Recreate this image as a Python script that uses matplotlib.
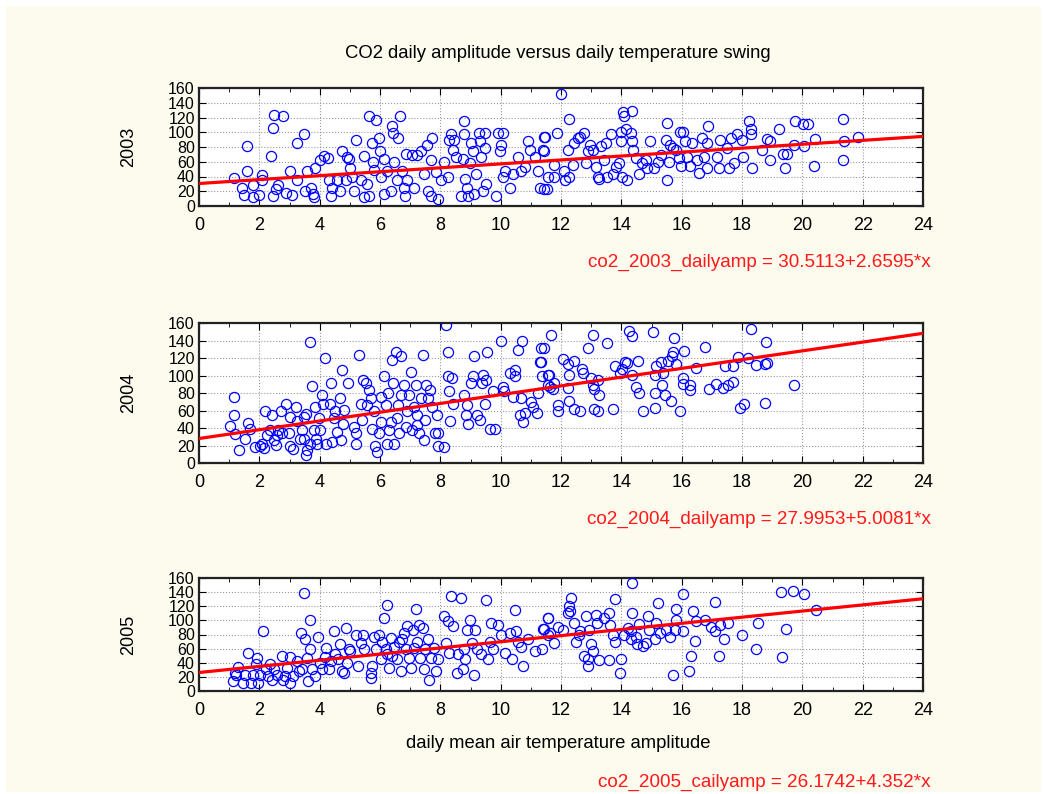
import matplotlib
matplotlib.use("Agg")
import matplotlib.pyplot as plt
from matplotlib.patches import Rectangle
import numpy as np

plt.rcParams['font.family'] = ['Liberation Sans', 'DejaVu Sans']

# 2003 - Werte
x03 = [1.17, 1.44, 1.5, 1.58, 1.6, 1.78, 1.78, 2.0, 2.08, 2.1, 2.4, 2.45, 2.5, 2.77, 2.46, 2.55, 2.63,
       2.9, 3.0, 3.08, 3.24, 3.24, 3.47, 3.52, 3.58, 3.7, 3.8, 3.86, 3.78, 4.0, 4.13, 4.27, 4.3, 4.36,
       4.4, 4.58, 4.69, 4.74, 4.86, 4.9, 4.96, 5.0, 5.08, 5.13, 5.2, 5.36, 5.47, 5.47, 5.58, 5.63, 5.63,
       5.74, 5.78, 5.8, 5.86, 5.97, 6.0, 6.02, 6.13, 6.13, 6.24, 6.36, 6.41, 6.44, 6.47, 6.56, 6.6, 6.67,
       6.72, 6.8, 6.82, 6.86, 6.91, 7.06, 7.13, 7.24, 7.36, 7.47, 7.56, 7.58, 7.69, 7.69, 7.74, 7.86,
       7.93, 8.02, 8.13, 8.24, 8.3, 8.36, 8.41, 8.44, 8.52, 8.69, 8.74, 8.78, 8.8, 8.82, 8.89, 8.91,
       8.97, 9.02, 9.08, 9.11, 9.19, 9.27, 9.3, 9.36, 9.41, 9.47, 9.47, 9.5, 9.86, 9.91, 9.97, 10.02,
       10.08, 10.08, 10.13, 10.3, 10.41, 10.58, 10.69, 10.8, 10.91, 10.97, 11.13, 11.24, 11.3, 11.41,
       11.47, 11.52, 11.58,
       12.0, 11.45, 11.45, 11.45, 11.87, 11.78, 11.76, 12.1, 12.13, 12.22, 12.28, 12.28, 12.39, 12.44,
       12.55, 12.64, 12.75, 12.83, 12.88, 12.97, 13.05, 13.16, 13.21, 13.27, 13.32, 13.41, 13.48, 13.54,
       13.65, 13.71, 13.82, 13.93, 13.98, 13.98, 14.01, 14.04, 14.09, 14.15, 14.2, 14.31, 14.35, 14.37,
       14.4, 14.48, 14.59, 14.7, 14.81, 14.84, 14.95, 15.09, 15.2, 15.3, 15.47, 15.51, 15.53, 15.58,
       15.62, 15.7, 15.8, 15.9, 15.94, 15.97, 16.06, 16.1, 16.19, 16.28, 16.33, 16.52, 16.57, 16.68,
       16.74, 16.83, 16.85, 16.88, 17.18, 17.24, 17.27, 17.5, 17.57, 17.65, 17.74, 17.83, 18.0, 18.04,
       18.23, 18.3, 18.3, 18.33, 18.67, 18.84, 18.92, 18.94, 19.22, 19.36, 19.42, 19.5, 19.72, 19.77,
       20.02, 20.05, 20.19, 20.38, 20.43, 21.35, 21.35, 21.39, 21.83]
y03 = [38, 25, 15, 82, 47, 29, 12, 15, 42, 35, 68, 106, 124, 122, 13, 23, 28,
       18, 47, 15, 85, 35, 98, 21, 47, 25, 12, 52, 16, 62, 68, 65, 35, 14,
       25, 35, 21, 75, 35, 67, 64, 52, 39, 21, 90, 35, 68, 12, 30, 122, 14,
       85, 60, 49, 117, 92, 74, 39, 64, 16, 48, 21, 108, 99, 59, 35, 92, 122,
       48, 25, 14, 71, 35, 69, 25, 69, 74, 44, 83, 21, 62, 14, 92, 46,
       9, 35, 59, 39, 90, 97, 76, 90, 67, 14, 64, 97, 115, 37, 25, 14,
       58, 85, 74, 16, 44, 99, 88, 67, 21, 99, 78, 30, 14, 99, 74, 83,
       99, 39, 48, 25, 44, 67, 48, 53, 88, 76, 67, 48, 25, 76,
       94, 23, 39,
       152, 94, 74, 23, 99, 55, 39, 48, 35, 76, 39, 118, 55, 85,
       92, 94, 99, 58, 74, 83, 76, 53, 39, 37, 81, 62, 85, 39,
       97, 44, 53, 58, 101, 88, 39, 128, 122, 104, 35, 99, 129, 88,
       76, 65, 44, 58, 62, 51, 88, 51, 60, 69, 90, 35, 113, 60,
       83, 78, 76, 65, 101, 54, 100, 88, 67, 54, 85, 63, 45, 92,
       67, 85, 51, 108, 67, 52, 90, 78, 51, 92, 58, 97, 90, 67,
       115, 105, 97, 52, 76, 91, 62, 88, 104, 71, 51, 71, 83, 115,
       111, 81, 111, 54, 91, 118, 62, 88, 94]

# 2004
x04 = [1.02, 1.17, 1.17, 1.19, 1.33, 1.52, 1.61, 1.69, 1.86, 2.02, 2.08, 2.16, 2.19, 2.24, 2.36, 2.41,
       2.47, 2.56, 2.58, 2.63, 2.72, 2.74, 2.89, 2.97, 3.0, 3.02, 3.13, 3.22, 3.24, 3.36, 3.41, 3.47,
       3.49, 3.56, 3.56, 3.58, 3.67, 3.69, 3.74, 3.8, 3.86, 3.89, 3.91, 3.97, 4.02, 4.08, 4.11, 4.17,
       4.22, 4.33, 4.39, 4.41, 4.47, 4.52, 4.56, 4.69, 4.71, 4.74, 4.78, 4.8, 4.93, 5.13, 5.19, 5.22,
       5.3, 5.36, 5.41, 5.44, 5.52, 5.58, 5.63, 5.69, 5.74, 5.8, 5.82, 5.91, 5.97, 6.02, 6.04, 6.13,
       6.19, 6.22, 6.27, 6.3, 6.36, 6.41, 6.44, 6.47, 6.52, 6.56, 6.6, 6.63, 6.69, 6.71, 6.8, 6.86,
       6.91, 6.97, 7.02, 7.06, 7.13, 7.19, 7.22, 7.24, 7.3, 7.36, 7.44, 7.47, 7.49, 7.52, 7.58, 7.67,
       7.74, 7.82, 7.89, 7.91, 7.93, 8.13, 8.19, 8.24, 8.24, 8.3, 8.33, 8.38, 8.41, 8.8, 8.86, 8.89,
       8.93, 9.02, 9.08, 9.13, 9.22, 9.3, 9.39, 9.41, 9.47, 9.52, 9.56, 9.63, 9.8, 9.74, 10.02, 10.08,
       10.11, 10.3, 10.41, 10.47, 10.49, 10.58, 10.63, 10.69, 10.71, 10.74, 10.8, 11.02, 11.08, 11.19,
       11.24, 11.3, 11.36, 11.44, 11.6, 11.63,
       11.34, 11.34, 11.56, 11.56, 11.67, 11.72, 11.78, 11.89, 11.89, 12.08, 12.22, 12.22, 12.28, 12.28,
       12.44, 12.44, 12.63, 12.7, 12.72, 12.9, 12.98, 13.05, 13.05, 13.11, 13.11, 13.22, 13.22, 13.27,
       13.52, 13.72, 13.8, 13.94, 14.02, 14.13, 14.2, 14.26, 14.35, 14.35, 14.48, 14.56, 14.6, 14.71,
       15.04, 15.1, 15.1, 15.13, 15.15, 15.3, 15.35, 15.38, 15.46, 15.54, 15.65, 15.69, 15.71, 15.76,
       15.82, 15.95, 16.04, 16.06, 16.07, 16.26, 16.29, 16.48, 16.79, 16.92, 17.15, 17.37, 17.42, 17.53,
       17.69, 17.69, 17.86, 17.92, 18.05, 18.2, 18.31, 18.45, 18.75, 18.75, 18.8, 18.83, 19.74]
y04 = [42, 76, 55, 33, 15, 28, 46, 39, 18, 20, 22, 17, 60, 32, 38, 55,
       26, 21, 32, 38, 60, 34, 67, 34, 20, 53, 16, 64, 48, 28, 38, 53,
       28, 56, 9, 15, 138, 22, 88, 38, 64, 28, 22, 51, 38, 78, 68, 120,
       22, 68, 91, 24, 51, 59, 36, 74, 26, 106, 45, 61, 92, 41, 34, 22,
       123, 67, 49, 95, 91, 66, 83, 74, 39, 59, 20, 13, 34, 47, 76, 100,
       66, 22, 80, 38, 47, 118, 91, 22, 127, 51, 66, 34, 78, 122, 89, 41,
       59, 78, 104, 38, 64, 89, 55, 43, 34, 74, 124, 26, 49, 89, 74, 83,
       64, 34, 55, 19, 34, 18, 158, 127, 99, 82, 48, 97, 68, 78, 55, 66,
       45, 91, 99, 122, 55, 49, 91, 101, 68, 95, 127, 39, 39, 82, 140, 87,
       82, 103, 76, 106, 99, 129, 55, 74, 140, 47, 57, 70, 64, 57,
       80, 116, 99, 131, 101,  87,
       131, 116, 101, 89, 146, 85, 91, 66, 59, 119, 113, 86, 101, 71,
       117, 62, 60, 108, 103, 131, 97, 146, 89, 85, 62, 95, 60, 78,
       137, 62, 111, 103, 108, 116, 114, 151, 145, 101, 87, 117, 80, 59,
       150, 80, 101, 63, 111, 116, 89, 103, 78, 117, 71, 122, 127, 143,
       113, 60, 97, 90, 128, 89, 83, 109, 133, 85, 90, 86, 111, 89,
       111, 93, 121, 63, 67, 120, 153, 112, 69, 113, 138, 114, 89]

# 2005
x05 = [1.13, 1.19, 1.28, 1.22, 1.47, 1.52, 1.63, 1.74, 1.8, 1.89, 1.93, 1.97, 2.02, 2.11, 2.22, 2.3,
       2.36, 2.41, 2.49, 2.58, 2.74, 2.78, 2.86, 2.93, 3.0, 3.02, 3.13, 3.24, 3.3, 3.38, 3.41, 3.47,
       3.52, 3.58, 3.6, 3.67, 3.69, 3.74, 3.86, 3.94, 4.02, 4.08, 4.19, 4.22, 4.3, 4.36, 4.47, 4.52,
       4.6, 4.67, 4.74, 4.8, 4.86, 4.91, 4.97, 5.02, 5.22, 5.27, 5.36, 5.44, 5.47, 5.69, 5.69, 5.74,
       5.8, 5.86, 5.97, 6.02, 6.08, 6.13, 6.19, 6.22, 6.24, 6.3, 6.36, 6.41, 6.47, 6.56, 6.63, 6.69,
       6.74, 6.8, 6.86, 6.91, 6.97, 7.02, 7.08, 7.13, 7.19, 7.24, 7.3, 7.33, 7.41, 7.47, 7.49, 7.58,
       7.63, 7.69, 7.8, 7.86, 7.91, 8.11, 8.19, 8.24, 8.3, 8.36, 8.41, 8.56, 8.58, 8.69, 8.74, 8.78,
       8.82, 8.89, 8.97, 9.04, 9.11, 9.16, 9.22, 9.36, 9.52, 9.58, 9.63, 9.69, 9.74, 9.91, 10.02, 10.13,
       10.3, 10.36, 10.47, 10.52, 10.58, 10.69, 10.74, 10.91, 11.13, 11.36, 11.44, 11.58, 11.63,
       11.39, 11.56, 11.56, 11.78, 11.89, 12.08, 12.22, 12.28, 12.33, 12.3, 12.44, 12.5, 12.59, 12.63,
       12.77, 12.83, 12.89, 12.89, 12.94, 12.99, 13.05, 13.16, 13.18, 13.25, 13.44, 13.58, 13.6, 13.63,
       13.72, 13.8, 13.8, 13.94, 13.99, 14.1, 14.21, 14.32, 14.32, 14.36, 14.36, 14.49, 14.51, 14.6,
       14.73, 14.82, 14.87, 14.93, 15.1, 15.15, 15.23, 15.29, 15.49, 15.62, 15.71, 15.79, 15.82, 15.82,
       16.06, 16.06, 16.24, 16.31, 16.37, 16.43, 16.46, 16.76, 16.98, 17.09, 17.12, 17.25, 17.26, 17.39,
       17.53, 18.0, 18.47, 18.52, 19.33, 19.28, 19.47, 19.69, 20.04, 20.44]
y05 = [14, 26, 34, 22, 12, 22, 54, 12, 22, 38, 47, 12, 22, 85, 31, 21,
       38, 16, 31, 22, 50, 16, 21, 33, 12, 48, 21, 42, 28, 82, 31, 139,
       73, 47, 14, 60, 101, 31, 21, 77, 40, 31, 48, 61, 31, 42, 85, 52,
       45, 66, 28, 26, 89, 40, 60, 56, 80, 35, 68, 80, 59, 26, 19, 35,
       77, 59, 80, 45, 70, 104, 59, 122, 52, 33, 75, 49, 63, 45, 70, 28,
       73, 82, 59, 92, 47, 33, 87, 61, 116, 70, 94, 47, 89, 31, 59, 73,
       15, 47, 61, 28, 45, 106, 68, 99, 54, 134, 92, 26, 52, 131, 31, 59,
       45, 87, 101, 68, 22, 87, 59, 52, 129, 45, 70, 96, 59, 94, 80, 54,
       82, 45, 115, 85, 70, 63, 35, 73, 56, 59, 88, 103, 82,
       88, 103, 80, 68, 91, 87, 110, 120, 131, 113, 96, 70, 80, 85,
       49, 106, 45, 35, 87, 66, 56, 108, 96, 44, 103, 111, 44, 94,
       80, 130, 70, 25, 45, 80, 89, 85, 73, 111, 153, 77, 66, 95,
       64, 68, 106, 87, 73, 96, 124, 82, 87, 77, 22, 87, 116, 100,
       138, 85, 28, 50, 113, 71, 99, 101, 91, 85, 126, 50, 94, 74,
       96, 79, 59, 96, 48, 140, 88, 142, 138, 114]

jahre = ["2003", "2004", "2005"]
daten = [(x03, y03), (x04, y04), (x05, y05)]
intercepts = [30.5113, 27.9953, 26.1742]
slopes = [2.6595, 5.0081, 4.352]
gleichungen = ["co2_2003_dailyamp = 30.5113+2.6595*x",
               "co2_2004_dailyamp = 27.9953+5.0081*x",
               "co2_2005_cailyamp = 26.1742+4.352*x"]

W, H = 1043, 794
fig = plt.figure(figsize=(W / 100, H / 100), dpi=100, facecolor="white")
# cremefarbener Hintergrund mit schmalem weissen Rand
fig.patches.append(Rectangle((6 / W, 2 / H), (W - 8) / W, (H - 8) / H, transform=fig.transFigure,
                             facecolor="#fdfaee", edgecolor="none", zorder=-10))

# Achsen-Positionen in Pixeln (oben, unten)
boxen = [(88, 206), (323, 463), (578, 691)]
eq_y = [262, 519, 782]
left, right = 199, 923

for i, (top, bottom) in enumerate(boxen):
    ax = fig.add_axes([left / W, 1 - bottom / H, (right - left) / W, (bottom - top) / H])
    ax.set_facecolor("white")
    x, y = daten[i]
    ax.plot(x, y, "o", mfc="none", mec="#0000ff", ms=7.3, mew=0.9, zorder=3)
    xl = np.array([0, 24])
    ax.plot(xl, intercepts[i] + slopes[i] * xl, color="#ff0000", lw=2.3, zorder=4)
    ax.set_xlim(0, 24)
    ax.set_ylim(0, 160)
    ax.set_xticks(range(0, 25, 2))
    ax.set_xticks(range(0, 25, 1), minor=True)
    ax.set_yticks(range(0, 161, 20))
    ax.grid(True, which="major", ls=":", color="#999999", lw=0.8)
    ax.tick_params(which="both", direction="in", top=True, right=True)
    ax.tick_params(which="major", length=5)
    ax.tick_params(which="minor", length=3)
    ax.tick_params(axis="x", pad=8, labelsize=13)
    ax.tick_params(axis="y", pad=3, labelsize=11.5)
    for s in ax.spines.values():
        s.set_linewidth(1.6)
        s.set_color("#222222")
    ax.set_ylabel(jahre[i], fontsize=13)
    ax.yaxis.set_label_coords(-0.086, 0.5)
    fig.text(931 / W, 1 - eq_y[i] / H, gleichungen[i], color="#ff1a1a", fontsize=13.6,
             ha="right", va="center")
    if i == 2:
        fig.text(558 / W, 1 - 743 / H, "daily mean air temperature amplitude", fontsize=13.3,
                 ha="center", va="center")

fig.text(558 / W, 1 - 53 / H, "CO2 daily amplitude versus daily temperature swing", fontsize=13.3,
         ha="center", va="center")

fig.savefig("out.png", dpi=100, facecolor=fig.get_facecolor())
